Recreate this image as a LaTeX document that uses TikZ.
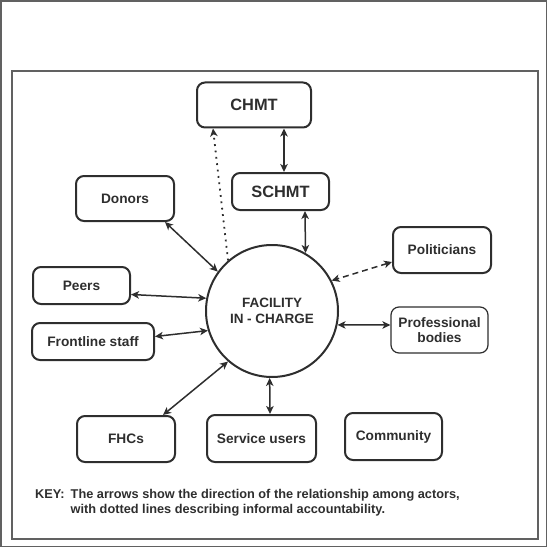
\documentclass[tikz,border=0pt]{standalone}
\usepackage{fontspec}
\setmainfont{Liberation Sans}
\usetikzlibrary{arrows.meta}
\definecolor{ink}{gray}{0.18}
\definecolor{frame}{gray}{0.38}

\begin{document}
\begin{tikzpicture}[x=1pt, y=-1pt,
		actor/.style = {draw=ink, text=ink, rounded corners=8pt, line width=2pt, inner sep=2pt,
			font=\fontsize{13.7}{15.5}\selectfont\bfseries, align=center},
		big/.style = {font=\fontsize{16.4}{18}\selectfont\bfseries},
		link/.style = {draw=ink, line width=1.5pt, >={Stealth[length=8pt,width=7.5pt,inset=2.2pt]}}]
		\useasboundingbox (0,0) rectangle (548,548);
		\draw[frame, line width=1.5pt] (1,1) rectangle (546.5,546.5);
		\draw[frame, line width=1.8pt] (12,71) rectangle (538,539);

		\node[draw=ink, circle, line width=2pt, minimum size=132pt, text=ink, align=center,
			font=\fontsize{13.5}{16}\selectfont\bfseries] (fic) at (272,311) {FACILITY\\IN - CHARGE};
		\node[actor, big, minimum width=114pt, minimum height=45pt] (chmt) at (254,105) {CHMT};
		\node[actor, big, minimum width=97pt, minimum height=37pt] (schmt) at (280.5,191.5) {SCHMT};
		\node[actor, minimum width=98pt, minimum height=45pt] (donors) at (125,198.5) {Donors};
		\node[actor, minimum width=97pt, minimum height=37pt] (peers) at (81.5,285.5) {Peers};
		\node[actor, minimum width=122pt, minimum height=37pt] (staff) at (93,341.5) {Frontline staff};
		\node[actor, minimum width=98pt, minimum height=46pt] (fhcs) at (126,439) {FHCs};
		\node[actor, minimum width=109pt, minimum height=47pt] (users) at (261.5,438.5) {Service users};
		\node[actor, minimum width=97pt, minimum height=47pt] (community) at (393.5,436.5) {Community};
		\node[actor, minimum width=98pt, minimum height=46pt] (politicians) at (442,250) {Politicians};
		\node[actor, line width=1.2pt, minimum width=97pt, minimum height=46pt] (bodies) at (439.5,330) {Professional\\bodies};

		\node[text=ink, font=\fontsize{12.75}{15}\selectfont\bfseries, anchor=north west, inner sep=0pt] (key) at (35,488)
			{\begin{tabular}{@{}l@{\hspace{6pt}}l@{}}KEY: & The arrows show the direction of the relationship among actors,\\
			& with dotted lines describing informal accountability.\end{tabular}};

		\draw[link, <->] ([xshift=30pt]chmt.south) -- ([xshift=3.5pt]schmt.north);
		\draw[link, <->] ([xshift=24.5pt]schmt.south) -- (fic.60);
		\draw[link, ->, line width=1.8pt, dash pattern=on 1.8pt off 4.6pt] (fic.131) -- ([xshift=-41pt]chmt.south);
		\draw[link, <->] ([xshift=40pt]donors.south) -- (fic.144);
		\draw[link, <->] ([yshift=-9pt]peers.east) -- (fic.169);
		\draw[link, <->] ([yshift=5pt]staff.east) -- (fic.197);
		\draw[link, <->] ([xshift=37pt]fhcs.north) -- (fic.229);
		\draw[link, <->] ([xshift=8.5pt]users.north) -- (fic.-92);
		\draw[link, <->, dash pattern=on 6pt off 4pt] ([yshift=-12pt]politicians.west) -- (fic.27);
		\draw[link, <->] ([yshift=5pt]bodies.west) -- (fic.-12);
	\end{tikzpicture}
\end{document}
